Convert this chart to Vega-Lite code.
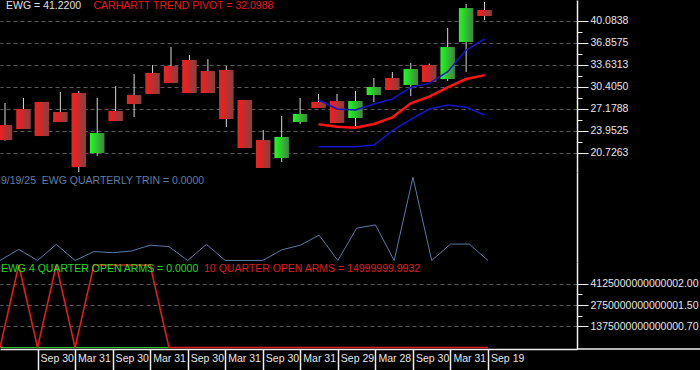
{
  "$schema": "https://vega.github.io/schema/vega-lite/v6.json",
  "background": "black",
  "padding": 0,
  "spacing": 0,
  "bounds": "flush",
  "config": {
    "view": {"stroke": null},
    "font": "Liberation Sans",
    "text": {"font": "Liberation Sans", "fontSize": 10.5},
    "axis": {"labelFont": "Liberation Sans"}
  },
  "datasets": {
    "q": [
      {"i":0,"o":24.78,"h":28.01,"l":22.5,"c":22.58,"trin":0,"a10":0,"a4":0},
      {"i":1,"o":27.13,"h":28.75,"l":24.2,"c":24.2,"trin":0.40,"a10":5350000000000000,"a4":0},
      {"i":2,"o":28.16,"h":28.16,"l":23.17,"c":23.17,"trin":0,"a10":0,"a4":0},
      {"i":3,"o":26.69,"h":29.62,"l":25.22,"c":25.22,"trin":0.58,"a10":5350000000000000,"a4":0},
      {"i":4,"o":29.48,"h":29.77,"l":17.45,"c":18.63,"trin":0,"a10":0,"a4":0},
      {"i":5,"o":20.68,"h":28.75,"l":20.24,"c":23.61,"trin":0.32,"a10":5350000000000000,"a4":0},
      {"i":6,"o":26.84,"h":30.5,"l":25.37,"c":25.37,"trin":0.28,"a10":5350000000000000,"a4":0},
      {"i":7,"o":29.18,"h":32.26,"l":25.96,"c":27.87,"trin":0.34,"a10":5350000000000000,"a4":0},
      {"i":8,"o":32.41,"h":33.58,"l":29.33,"c":29.33,"trin":0.55,"a10":5350000000000000,"a4":0},
      {"i":9,"o":33.44,"h":36.22,"l":30.94,"c":30.94,"trin":0.50,"a10":0,"a4":0},
      {"i":10,"o":34.32,"h":35.05,"l":29.48,"c":29.48,"trin":0,"a10":0,"a4":0},
      {"i":11,"o":32.7,"h":34.46,"l":29.48,"c":29.48,"trin":0.58,"a10":0,"a4":0},
      {"i":12,"o":32.85,"h":33.44,"l":24.49,"c":25.66,"trin":0,"a10":0,"a4":0},
      {"i":13,"o":28.45,"h":28.45,"l":21.41,"c":21.41,"trin":0,"a10":0,"a4":0},
      {"i":14,"o":22.58,"h":24.05,"l":18.48,"c":18.48,"trin":0,"a10":0,"a4":0},
      {"i":15,"o":19.95,"h":26.1,"l":19.36,"c":23.03,"trin":0.38,"a10":0,"a4":0},
      {"i":16,"o":25.22,"h":28.75,"l":24.93,"c":26.4,"trin":0.55,"a10":0,"a4":0},
      {"i":17,"o":28.16,"h":29.33,"l":27.28,"c":27.28,"up":28.45,"piv":24.89,"lo":21.6,"trin":0.91,"a10":0,"a4":0},
      {"i":18,"o":28.3,"h":29.33,"l":25.08,"c":25.08,"up":27.13,"piv":24.54,"lo":21.6,"trin":0,"a10":0,"a4":0},
      {"i":19,"o":25.81,"h":29.77,"l":24.64,"c":28.3,"up":26.99,"piv":24.39,"lo":21.6,"trin":1.16,"a10":0,"a4":0},
      {"i":20,"o":29.18,"h":31.68,"l":28.16,"c":30.36,"up":27.86,"piv":24.93,"lo":21.85,"trin":1.28,"a10":0,"a4":0},
      {"i":21,"o":31.68,"h":32.56,"l":29.92,"c":29.92,"up":28.6,"piv":25.91,"lo":23.95,"trin":0,"a10":0,"a4":0},
      {"i":22,"o":30.65,"h":33.88,"l":29.04,"c":33.0,"up":30.31,"piv":27.97,"lo":25.62,"trin":2.99,"a10":0,"a4":0},
      {"i":23,"o":33.58,"h":33.8,"l":31.09,"c":31.09,"up":30.9,"piv":28.94,"lo":27.13,"trin":0,"a10":0,"a4":0},
      {"i":24,"o":31.53,"h":39.01,"l":31.24,"c":36.22,"up":32.6,"piv":30.31,"lo":27.72,"trin":0.59,"a10":0,"a4":0},
      {"i":25,"o":36.96,"h":42.53,"l":32.56,"c":41.94,"up":35.78,"piv":31.53,"lo":27.38,"trin":0.59,"a10":0,"a4":0},
      {"i":26,"o":41.65,"h":42.82,"l":40.18,"c":40.77,"up":37.4,"piv":32.1,"lo":26.25,"trin":0,"a10":0,"a4":0}
    ]
  },
  "vconcat": [
    {
      "width": 577,
      "height": 172,
      "data": {"name": "q"},
      "layer": [
        {
          "mark": {"type": "rule", "color": "#d8d8d8", "strokeWidth": 1, "clip": true},
          "encoding": {
            "x": {"field": "i", "type": "quantitative", "scale": {"domain": [0, 30.74], "nice": false, "zero": false}, "axis": null},
            "y": {
              "field": "l", "type": "quantitative", "title": null,
              "scale": {"domain": [17.896, 43.119], "nice": false, "zero": false},
              "axis": {
                "orient": "right",
                "title": null,
                "tickCount": 40,
                "values": [20.7263, 22.3394, 23.9525, 25.5656, 27.1788, 28.7919, 30.405, 32.0181, 33.6313, 35.2444, 36.8575, 38.4706, 40.0838],
                "domainColor": "#f0f0f0",
                "domainWidth": 1.5,
                "tickColor": "#f0f0f0",
                "tickWidth": 1,
                "tickSize": {"condition": {"test": "abs((datum.value - 20.7263) / 3.22625 - round((datum.value - 20.7263) / 3.22625)) < 0.2", "value": 11}, "value": 5},
                "labelExpr": "abs((datum.value - 20.7263) / 3.22625 - round((datum.value - 20.7263) / 3.22625)) < 0.2 ? format(datum.value, '.4f') : ''",
                "labelColor": "#e6e6e6",
                "labelFontSize": 10.5,
                "labelPadding": 2,
                "labelBaseline": "middle",
                "labelOverlap": false,
                "labelFlush": false,
                "labelBound": false,
                "grid": true,
                "gridColor": "#5a5a5a",
                "gridDash": [4, 3],
                "gridWidth": 1,
                "gridOpacity": {"condition": {"test": "abs((datum.value - 20.7263) / 3.22625 - round((datum.value - 20.7263) / 3.22625)) < 0.2", "value": 1}, "value": 0}
              }
            },
            "y2": {"field": "h"}
          }
        },
        {
          "transform": [{"filter": "datum.c < datum.o"}],
          "mark": {"type": "bar", "width": 14.5, "clip": true,
            "fill": {"gradient": "linear", "x1": 0, "y1": 0, "x2": 1, "y2": 0, "stops": [{"offset": 0, "color": "#ff1a1a"}, {"offset": 1, "color": "#7c4444"}]}},
          "encoding": {
            "x": {"field": "i", "type": "quantitative"},
            "y": {"field": "o", "type": "quantitative", "title": null},
            "y2": {"field": "c"}
          }
        },
        {
          "transform": [{"filter": "datum.c >= datum.o"}],
          "mark": {"type": "bar", "width": 14.5, "clip": true,
            "fill": {"gradient": "linear", "x1": 0, "y1": 0, "x2": 1, "y2": 0, "stops": [{"offset": 0, "color": "#1aff1a"}, {"offset": 1, "color": "#4b7d4b"}]}},
          "encoding": {
            "x": {"field": "i", "type": "quantitative"},
            "y": {"field": "o", "type": "quantitative", "title": null},
            "y2": {"field": "c"}
          }
        },
        {
          "mark": {"type": "line", "color": "#1414c8", "strokeWidth": 1.5, "clip": true},
          "encoding": {
            "x": {"field": "i", "type": "quantitative"},
            "y": {"field": "up", "type": "quantitative", "title": null}
          }
        },
        {
          "mark": {"type": "line", "color": "#1414c8", "strokeWidth": 1.5, "clip": true},
          "encoding": {
            "x": {"field": "i", "type": "quantitative"},
            "y": {"field": "lo", "type": "quantitative", "title": null}
          }
        },
        {
          "mark": {"type": "line", "color": "#ff1414", "strokeWidth": 2.5, "clip": true},
          "encoding": {
            "x": {"field": "i", "type": "quantitative"},
            "y": {"field": "piv", "type": "quantitative", "title": null}
          }
        },
        {
          "data": {"values": [{}]},
          "mark": {"type": "text", "text": "EWG = 41.2200", "align": "left", "baseline": "middle", "color": "#e0e0e0", "fontSize": 10.5},
          "encoding": {
            "x": {"datum": 0.06, "type": "quantitative"},
            "y": {"datum": 42.24, "type": "quantitative"}
          }
        },
        {
          "data": {"values": [{}]},
          "mark": {"type": "text", "text": "CARHARTT TREND PIVOT = 32.0988", "align": "left", "baseline": "middle", "color": "#e8191a", "fontSize": 10.5},
          "encoding": {
            "x": {"datum": 4.8, "type": "quantitative"},
            "y": {"datum": 42.24, "type": "quantitative"}
          }
        }
      ]
    },
    {
      "width": 577,
      "height": 90,
      "data": {"name": "q"},
      "layer": [
        {
          "mark": {"type": "line", "color": "#5a7aa6", "strokeWidth": 1, "clip": true},
          "encoding": {
            "x": {"field": "i", "type": "quantitative", "scale": {"domain": [0, 30.74], "nice": false, "zero": false}, "axis": null},
            "y": {
              "field": "trin", "type": "quantitative", "title": null,
              "scale": {"domain": [-0.054, 3.18], "nice": false, "zero": false},
              "axis": {"orient": "right", "title": null, "ticks": false, "labels": false, "grid": false, "domainColor": "#f0f0f0", "domainWidth": 1.5}
            }
          }
        },
        {
          "data": {"values": [{}]},
          "mark": {"type": "text", "text": "9/19/25\u00a0 EWG QUARTERLY TRIN = 0.0000", "align": "left", "baseline": "middle", "color": "#5d7fa8", "fontSize": 10.5},
          "encoding": {
            "x": {"datum": 0.05, "type": "quantitative"},
            "y": {"datum": 2.86, "type": "quantitative"}
          }
        }
      ]
    },
    {
      "width": 577,
      "height": 87,
      "data": {"name": "q"},
      "layer": [
        {
          "mark": {"type": "line", "color": "#22cc22", "strokeWidth": 1.2, "clip": true},
          "encoding": {
            "x": {
              "field": "i", "type": "quantitative", "title": null,
              "scale": {"domain": [0, 30.74], "nice": false, "zero": false},
              "axis": {
                "orient": "bottom",
                "title": null,
                "tickCount": 40,
                "values": [2, 4, 6, 8, 10, 12, 14, 16, 18, 20, 22, 24, 26],
                "labelExpr": "['','','Sep 30','','Mar 31','','Sep 30','','Mar 31','','Sep 30','','Mar 31','','Sep 30','','Mar 31','','Sep 29','','Mar 28','','Sep 30','','Mar 31','','Sep 19'][datum.value]",
                "tickSize": 21,
                "tickColor": "#f0f0f0",
                "tickWidth": 1.5,
                "domainColor": "#f0f0f0",
                "domainWidth": 1.5,
                "labelColor": "#e8e8e8",
                "labelFontSize": 10.5,
                "labelAlign": "left",
                "labelBaseline": "middle",
                "labelPadding": -11.5,
                "labelOffset": 2.5,
                "labelFlush": false,
                "labelOverlap": false,
                "labelBound": false,
                "grid": false
              }
            },
            "y": {
              "field": "a4", "type": "quantitative", "title": null,
              "scale": {"domain": [-97300000000000, 5545000000000000], "nice": false, "zero": false},
              "axis": {
                "orient": "right",
                "title": null,
                "tickCount": 40,
                "values": [1375000000000000.7, 2062500000000001, 2750000000000001.5, 3437500000000002, 4125000000000002],
                "labelExpr": "datum.value > 4e15 ? '4125000000000002.00' : datum.value > 3.2e15 ? '' : datum.value > 2.5e15 ? '2750000000000001.50' : datum.value > 1.8e15 ? '' : '1375000000000000.70'",
                "domainColor": "#f0f0f0",
                "domainWidth": 1.5,
                "tickColor": "#f0f0f0",
                "tickWidth": 1,
                "tickSize": {"condition": {"test": "(datum.value > 3.2e15 && datum.value < 4e15) || (datum.value > 1.8e15 && datum.value < 2.5e15)", "value": 5}, "value": 11},
                "labelColor": "#e6e6e6",
                "labelFontSize": 10.5,
                "labelPadding": 2,
                "labelBaseline": "middle",
                "labelOverlap": false,
                "labelFlush": false,
                "labelBound": false,
                "grid": true,
                "gridColor": "#5a5a5a",
                "gridDash": [4, 3],
                "gridWidth": 1,
                "gridOpacity": {"condition": {"test": "(datum.value > 3.2e15 && datum.value < 4e15) || (datum.value > 1.8e15 && datum.value < 2.5e15)", "value": 0}, "value": 1}
              }
            }
          }
        },
        {
          "mark": {"type": "line", "color": "#e01c1c", "strokeWidth": 1.6, "clip": true},
          "encoding": {
            "x": {"field": "i", "type": "quantitative"},
            "y": {"field": "a10", "type": "quantitative", "title": null}
          }
        },
        {
          "data": {"values": [{}]},
          "mark": {"type": "rule", "color": "#f0f0f0", "strokeWidth": 1.5, "clip": false},
          "encoding": {
            "x": {"datum": 30.74, "type": "quantitative"},
            "x2": {"datum": 37.3},
            "y": {"datum": -97300000000000, "type": "quantitative"}
          }
        },
        {
          "data": {"values": [{}]},
          "mark": {"type": "text", "text": "EWG 4 QUARTER OPEN ARMS = 0.0000", "align": "left", "baseline": "middle", "color": "#22dd22", "fontSize": 10.5},
          "encoding": {
            "x": {"datum": 0.05, "type": "quantitative"},
            "y": {"datum": 5120000000000000, "type": "quantitative"}
          }
        },
        {
          "data": {"values": [{}]},
          "mark": {"type": "text", "text": "10 QUARTER OPEN ARMS = 14999999.9932", "align": "left", "baseline": "middle", "color": "#e01c1c", "fontSize": 10.5},
          "encoding": {
            "x": {"datum": 10.87, "type": "quantitative"},
            "y": {"datum": 5120000000000000, "type": "quantitative"}
          }
        }
      ]
    }
  ]
}
